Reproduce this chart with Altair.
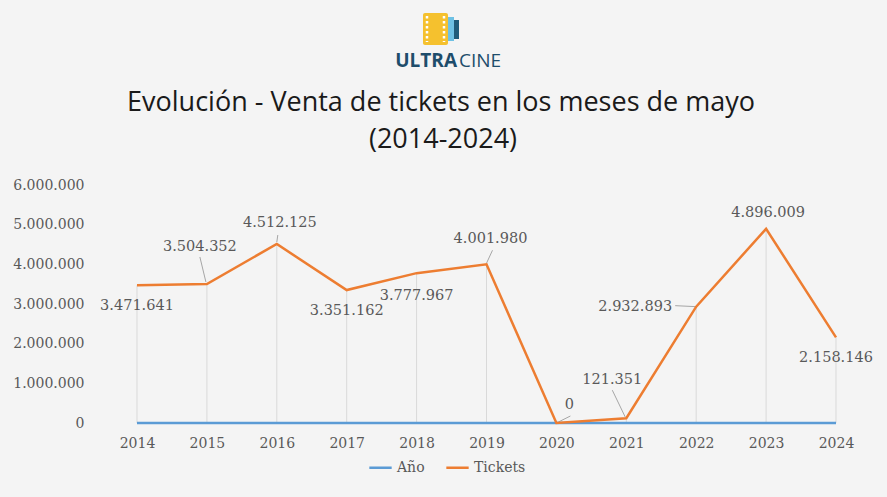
import altair as alt
import pandas as pd

# ---------------- data ----------------
YEARS = [2014, 2015, 2016, 2017, 2018, 2019, 2020, 2021, 2022, 2023, 2024]
TICKETS = [3471641, 3504352, 4512125, 3351162, 3777967, 4001980, 0, 121351, 2932893, 4896009, 2158146]
SERIES = ["Año", "Tickets"]
Y_TICKS = [0, 1000000, 2000000, 3000000, 4000000, 5000000, 6000000]
TITLE_LINES = ["Evolución - Venta de tickets en los meses de mayo", "(2014-2024)"]
BRAND = ["ULTRA", "CINE"]

# ---------------- style ----------------
W, H = 699, 238
PAD = {"left": 137, "top": 185, "right": 51, "bottom": 74}
KX = (YEARS[-1] - YEARS[0]) / W          # years per pixel
KY = Y_TICKS[-1] / H                      # tickets per pixel
# label offsets in pixels (dx, dy) relative to the point
LABEL_DX = [0, -7, 3, 0, 0, 4, 13, -14, -61, 2, 0]
LABEL_DY = [21, -37, -21, 21, 23, -25, -18, -38, 0, -16, 21]
# leader lines: index, start(dx,dy), end(dx,dy) in pixels
LEADERS = [(1, -1, -2, -7, -27), (2, 0, -2, 1, -9), (5, 0, -1, 6, -14),
           (6, 2, -1, 14, -7), (7, -1, -1, -14, -28), (8, -21, -1, 0, 0)]
SERIF = "DejaVu Serif"
GREY_TXT = "#595959"
BLUE, ORANGE = "#5b9bd5", "#ed7d31"

# ---------------- tables ----------------
long_df = pd.DataFrame({
    "year": YEARS * 2,
    "value": YEARS + TICKETS,
    "serie": [SERIES[0]] * len(YEARS) + [SERIES[1]] * len(YEARS),
})
pts = pd.DataFrame({"year": YEARS, "value": TICKETS, "dx": LABEL_DX, "dy": LABEL_DY})
lead = pd.DataFrame({
    "x": [YEARS[i] + a * KX for i, a, b, c, d in LEADERS],
    "y": [TICKETS[i] - b * KY for i, a, b, c, d in LEADERS],
    "x2": [YEARS[i] + c * KX for i, a, b, c, d in LEADERS],
    "y2": [TICKETS[i] - d * KY for i, a, b, c, d in LEADERS],
})
dummy = pd.DataFrame({"a": [0]})

xscale = alt.Scale(domain=[YEARS[0], YEARS[-1]], nice=False, zero=False)
yscale = alt.Scale(domain=[0, Y_TICKS[-1]], nice=False)
xaxis = alt.Axis(values=YEARS, format="d", title=None, ticks=False, domain=False,
                 grid=False, labelFont=SERIF, labelFontSize=14, labelColor=GREY_TXT,
                 labelPadding=13, labelOverlap=False, labelFlush=False, labelBound=False)
yaxis = alt.Axis(values=Y_TICKS, format=",d", title=None, ticks=False, domain=False,
                 grid=False, labelFont=SERIF, labelFontSize=14, labelColor=GREY_TXT,
                 labelPadding=53, labelOverlap=False, labelFlush=False, labelBound=False)

drop = alt.Chart(pts).mark_rule(color="#d9d9d9", strokeWidth=1).encode(
    x=alt.X("year:Q", scale=xscale, axis=xaxis),
    y=alt.Y("value:Q", scale=yscale, axis=yaxis),
    y2=alt.datum(0),
)

lines = alt.Chart(long_df).mark_line(strokeWidth=2.5).encode(
    x=alt.X("year:Q", scale=xscale, axis=xaxis),
    y=alt.Y("value:Q", scale=yscale, axis=yaxis),
    color=alt.Color("serie:N", scale=alt.Scale(domain=SERIES, range=[BLUE, ORANGE]),
                    legend=alt.Legend(title=None, orient="none", legendX=231, legendY=270,
                                      direction="horizontal", symbolType="stroke",
                                      symbolSize=500, symbolStrokeWidth=2.5,
                                      labelFont=SERIF, labelFontSize=14, labelColor=GREY_TXT,
                                      labelOffset=4, columnPadding=16)),
)

leaders = alt.Chart(lead).mark_rule(color="#a6a6a6", strokeWidth=1).encode(
    x=alt.X("x:Q", scale=xscale, axis=xaxis), y=alt.Y("y:Q", scale=yscale, axis=yaxis),
    x2="x2:Q", y2="y2:Q",
)

labels = alt.Chart(pts).transform_calculate(
    lx=f"datum.year + datum.dx * {KX}",
    ly=f"datum.value - datum.dy * {KY}",
).mark_text(font=SERIF, fontSize=14.5, color=GREY_TXT, align="center", baseline="middle").encode(
    x=alt.X("lx:Q", scale=xscale, axis=xaxis),
    y=alt.Y("ly:Q", scale=yscale, axis=yaxis),
    text=alt.Text("value:Q", format=",d"),
)

# ---------------- title & logo ----------------
title1 = alt.Chart(dummy).mark_text(text=TITLE_LINES[0], font="Open Sans", fontSize=27,
                                    color="#1a1a1a", align="center", baseline="middle").encode(
    x=alt.value(304), y=alt.value(-82))
title2 = alt.Chart(dummy).mark_text(text=TITLE_LINES[1], font="Open Sans", fontSize=27,
                                    color="#1a1a1a", align="center", baseline="middle").encode(
    x=alt.value(306), y=alt.value(-45))

LOGO_C = "#1e4d6b"
brand1 = alt.Chart(dummy).mark_text(text=BRAND[0], font="Open Sans", fontSize=19, fontWeight="bold",
                                    color=LOGO_C, align="right", baseline="middle").encode(
    x=alt.value(320), y=alt.value(-124))
brand2 = alt.Chart(dummy).mark_text(text=BRAND[1], font="Open Sans", fontSize=19, fontWeight="normal",
                                    color=LOGO_C, align="left", baseline="middle").encode(
    x=alt.value(322), y=alt.value(-124))
dark = alt.Chart(dummy).mark_rect(color="#1f5c7a").encode(
    x=alt.value(316), x2=alt.value(322), y=alt.value(-165), y2=alt.value(-146))
light = alt.Chart(dummy).mark_rect(color="#6ec1e4").encode(
    x=alt.value(309), x2=alt.value(317), y=alt.value(-168), y2=alt.value(-144))
yellow = alt.Chart(dummy).mark_rect(color="#f5c12e", cornerRadius=2).encode(
    x=alt.value(286), x2=alt.value(311), y=alt.value(-172), y2=alt.value(-140))
perf_l = alt.Chart(dummy).mark_rule(color="white", strokeWidth=2.5, strokeDash=[2.5, 2.5]).encode(
    x=alt.value(290), y=alt.value(-169), y2=alt.value(-143))
perf_r = alt.Chart(dummy).mark_rule(color="white", strokeWidth=2.5, strokeDash=[2.5, 2.5]).encode(
    x=alt.value(307), y=alt.value(-169), y2=alt.value(-143))

chart = alt.layer(
    drop, leaders, lines, labels, title1, title2,
    dark, light, yellow, perf_l, perf_r, brand1, brand2,
).properties(
    width=W, height=H,
    autosize=alt.AutoSizeParams(type="none"),
    padding=PAD,
    background="#f4f4f4",
).configure(
    locale={"number": {"decimal": ",", "thousands": ".", "grouping": [3], "currency": ["", "€"]}},
    view=alt.ViewConfig(stroke="transparent"),
)

chart.save("out.html", embed_options={"renderer": "svg", "actions": False})
